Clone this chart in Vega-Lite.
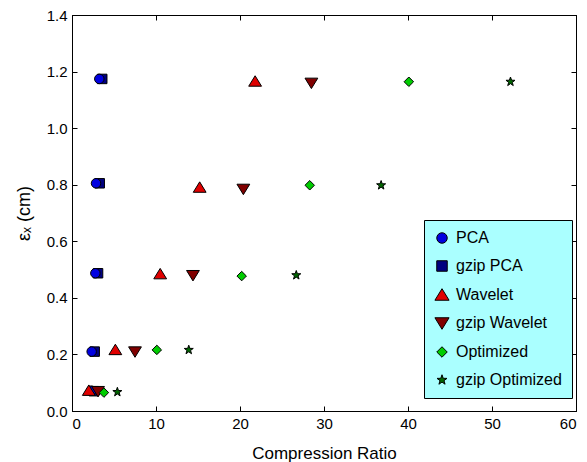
{
  "$schema": "https://vega.github.io/schema/vega-lite/v6.json",
  "width": 504,
  "height": 396,
  "autosize": {"type": "none"},
  "padding": {"left": 72, "top": 15, "right": 11, "bottom": 51},
  "background": "white",
  "config": {
    "font": "Liberation Sans",
    "view": {"stroke": "black", "strokeWidth": 1},
    "axis": {
      "grid": false,
      "domainColor": "black",
      "tickColor": "black",
      "tickSize": -5,
      "labelColor": "black",
      "labelFontSize": 15,
      "titleFontSize": 17,
      "titleFontWeight": "normal",
      "titleColor": "black",
      "labelPadding": 10
    }
  },
  "data": {
    "values": [
      {"series": "gzip PCA", "x": 3.6, "y": 1.174},
      {"series": "gzip PCA", "x": 3.3, "y": 0.805},
      {"series": "gzip PCA", "x": 3.1, "y": 0.487},
      {"series": "gzip PCA", "x": 2.7, "y": 0.21},
      {"series": "gzip PCA", "x": 2.6, "y": 0.07},
      {"series": "PCA", "x": 3.25, "y": 1.174},
      {"series": "PCA", "x": 2.86, "y": 0.805},
      {"series": "PCA", "x": 2.78, "y": 0.487},
      {"series": "PCA", "x": 2.34, "y": 0.21},
      {"series": "PCA", "x": 2.3, "y": 0.072},
      {"series": "Wavelet", "x": 21.8, "y": 1.165},
      {"series": "Wavelet", "x": 15.2, "y": 0.79},
      {"series": "Wavelet", "x": 10.5, "y": 0.484},
      {"series": "Wavelet", "x": 5.16, "y": 0.216},
      {"series": "Wavelet", "x": 2.0, "y": 0.072},
      {"series": "gzip Wavelet", "x": 28.5, "y": 1.16},
      {"series": "gzip Wavelet", "x": 20.4, "y": 0.785},
      {"series": "gzip Wavelet", "x": 14.4, "y": 0.48},
      {"series": "gzip Wavelet", "x": 7.5, "y": 0.21},
      {"series": "gzip Wavelet", "x": 3.1, "y": 0.07},
      {"series": "Optimized", "x": 40.1, "y": 1.164},
      {"series": "Optimized", "x": 28.3, "y": 0.798},
      {"series": "Optimized", "x": 20.2, "y": 0.477},
      {"series": "Optimized", "x": 10.1, "y": 0.216},
      {"series": "Optimized", "x": 3.8, "y": 0.065},
      {"series": "gzip Optimized", "x": 52.2, "y": 1.164},
      {"series": "gzip Optimized", "x": 36.8, "y": 0.798},
      {"series": "gzip Optimized", "x": 26.7, "y": 0.48},
      {"series": "gzip Optimized", "x": 13.9, "y": 0.216},
      {"series": "gzip Optimized", "x": 5.4, "y": 0.067}
    ]
  },
  "layer": [
    {
      "mark": {"type": "point", "filled": true, "stroke": "black", "strokeWidth": 1, "size": 90, "opacity": 1},
      "encoding": {
        "x": {
          "field": "x", "type": "quantitative",
          "scale": {"domain": [0, 60], "nice": false, "zero": false},
          "axis": {"values": [0, 10, 20, 30, 40, 50, 60], "title": "Compression Ratio", "titlePadding": 14}
        },
        "y": {
          "field": "y", "type": "quantitative",
          "scale": {"domain": [0, 1.4], "nice": false, "zero": false},
          "axis": {"values": [0, 0.2, 0.4, 0.6, 0.8, 1, 1.2, 1.4], "title": "εₓ (cm)", "titlePadding": 13, "titleFontSize": 18}
        },
        "color": {
          "field": "series", "type": "nominal",
          "scale": {
            "domain": ["PCA", "gzip PCA", "Wavelet", "gzip Wavelet", "Optimized", "gzip Optimized"],
            "range": ["#0000e0", "#000080", "#e00000", "#800000", "#00cc00", "#006600"]
          },
          "legend": {
            "title": null,
            "orient": "none",
            "legendX": 352,
            "legendY": 205,
            "fillColor": "#aaffff",
            "strokeColor": "black",
            "padding": 10,
            "rowPadding": 12,
            "labelFontSize": 16,
            "labelColor": "black",
            "symbolSize": 110,
            "symbolStrokeColor": "black",
            "symbolStrokeWidth": 1,
            "labelOffset": 6
          }
        },
        "shape": {
          "field": "series", "type": "nominal",
          "scale": {
            "domain": ["PCA", "gzip PCA", "Wavelet", "gzip Wavelet", "Optimized", "gzip Optimized"],
            "range": ["circle", "square", "M0,-1.2L1.35,1L-1.35,1Z", "M0,1.2L1.35,-1L-1.35,-1Z", "diamond", "M0,-1L0.235,-0.324L0.951,-0.309L0.38,0.124L0.588,0.809L0,0.4L-0.588,0.809L-0.38,0.124L-0.951,-0.309L-0.235,-0.324Z"]
          }
        }
      }
    },
    {
      "mark": {"type": "point", "opacity": 0},
      "encoding": {
        "x": {
          "field": "x", "type": "quantitative",
          "axis": {"orient": "top", "values": [0, 10, 20, 30, 40, 50, 60], "labels": false, "title": null}
        },
        "y": {
          "field": "y", "type": "quantitative",
          "axis": {"orient": "right", "values": [0, 0.2, 0.4, 0.6, 0.8, 1, 1.2, 1.4], "labels": false, "title": null}
        }
      }
    }
  ],
  "resolve": {"axis": {"x": "independent", "y": "independent"}}
}
